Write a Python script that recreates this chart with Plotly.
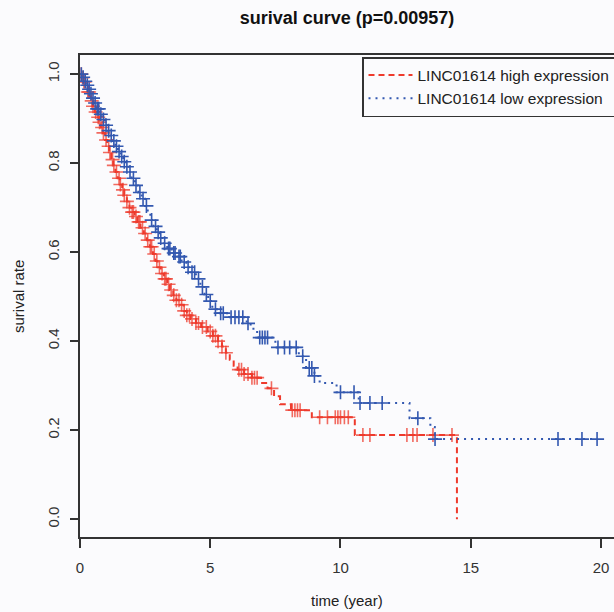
import plotly.graph_objects as go

# ---------------- data ----------------
title_text = "surival curve (p=0.00957)"
series_names = ["LINC01614 high expression", "LINC01614 low expression"]

# Kaplan-Meier steps: event time (years) and survival after the drop
high_times = [0, 0.08, 0.15, 0.22, 0.30, 0.36, 0.42, 0.50, 0.57, 0.64, 0.72, 0.80, 0.88, 0.96,
              1.04, 1.12, 1.20, 1.28, 1.36, 1.45, 1.53, 1.62, 1.70, 1.80, 1.90, 2.00, 2.10,
              2.20, 2.32, 2.45, 2.57, 2.68, 2.80, 2.90, 2.98, 3.10, 3.22, 3.35, 3.45, 3.58,
              3.70, 3.84, 3.98, 4.10, 4.25, 4.45, 4.65, 4.90, 5.10, 5.30, 5.45, 5.60, 5.75,
              5.90, 6.05, 6.30, 6.60, 6.95, 7.20, 7.45, 7.68, 8.10, 8.90, 10.55, 14.47]
high_surv = [1.0, 0.992, 0.983, 0.972, 0.960, 0.950, 0.940, 0.928, 0.915, 0.903, 0.892, 0.880,
             0.868, 0.852, 0.838, 0.824, 0.808, 0.795, 0.780, 0.766, 0.752, 0.740, 0.728, 0.714,
             0.700, 0.690, 0.680, 0.668, 0.655, 0.642, 0.627, 0.612, 0.596, 0.580, 0.566, 0.552,
             0.540, 0.528, 0.515, 0.503, 0.492, 0.482, 0.468, 0.458, 0.450, 0.441, 0.432, 0.422,
             0.412, 0.400, 0.388, 0.374, 0.358, 0.345, 0.336, 0.326, 0.318, 0.306, 0.294, 0.276,
             0.258, 0.245, 0.229, 0.189, 0.0]

low_times = [0, 0.06, 0.14, 0.22, 0.30, 0.38, 0.46, 0.55, 0.64, 0.74, 0.84, 0.96, 1.06, 1.16,
             1.26, 1.36, 1.46, 1.56, 1.66, 1.76, 1.86, 1.98, 2.11, 2.24, 2.37, 2.50, 2.60, 2.70,
             2.82, 2.95, 3.07, 3.20, 3.35, 3.52, 3.70, 3.90, 4.08, 4.25, 4.45, 4.62, 4.78, 4.92,
             5.08, 5.30, 5.70, 6.40, 6.55, 6.80, 7.50, 8.40, 8.68, 9.00, 9.20, 9.85, 10.70,
             12.65, 13.45, 13.62, 19.85]
low_surv = [1.0, 0.993, 0.984, 0.975, 0.966, 0.956, 0.946, 0.935, 0.922, 0.910, 0.898, 0.885,
            0.873, 0.862, 0.850, 0.838, 0.826, 0.815, 0.803, 0.792, 0.780, 0.766, 0.750, 0.734,
            0.720, 0.704, 0.688, 0.672, 0.658, 0.645, 0.632, 0.620, 0.608, 0.598, 0.590, 0.578,
            0.566, 0.555, 0.540, 0.522, 0.505, 0.490, 0.472, 0.463, 0.454, 0.440, 0.428, 0.408,
            0.386, 0.366, 0.340, 0.322, 0.306, 0.285, 0.261, 0.227, 0.207, 0.180, 0.180]

# censoring times (years)
high_censor = [0.05, 0.1, 0.15, 0.2, 0.3, 0.35, 0.45, 0.5, 0.6, 0.7, 0.75, 0.85, 0.9, 1.0, 1.1,
               1.15, 1.25, 1.3, 1.4, 1.5, 1.55, 1.65, 1.7, 1.8, 1.9, 2.0, 2.05, 2.15, 2.25, 2.3,
               2.4, 2.5, 2.6, 2.7, 2.75, 2.85, 2.95, 3.05, 3.15, 3.25, 3.3, 3.4, 3.5, 3.6, 3.7,
               3.8, 3.9, 4.0, 4.1, 4.2, 4.3, 4.45, 4.55, 4.7, 4.85, 5.0, 5.1, 5.2, 5.3, 5.45,
               5.6, 6.1, 6.2, 6.3, 6.45, 6.6, 6.7, 6.8, 7.35, 8.15, 8.25, 8.35, 8.45, 9.2, 9.5,
               9.8, 9.9, 10.0, 10.15, 10.3, 10.86, 11.13, 12.55, 12.78, 12.94, 13.55, 14.28]
low_censor = [0.05, 0.12, 0.2, 0.28, 0.35, 0.42, 0.5, 0.58, 0.66, 0.72, 0.8, 0.9, 1.0, 1.1, 1.2,
              1.3, 1.4, 1.5, 1.6, 1.7, 1.8, 1.92, 2.05, 2.15, 2.3, 2.42, 2.55, 2.75, 2.9, 3.0,
              3.1, 3.25, 3.4, 3.45, 3.6, 3.65, 3.8, 3.85, 4.0, 4.15, 4.3, 4.4, 4.55, 4.7, 4.85,
              5.0, 5.2, 5.4, 5.5, 5.8, 5.95, 6.1, 6.25, 6.45, 6.9, 7.0, 7.1, 7.2, 7.6, 7.85,
              8.05, 8.3, 8.55, 8.8, 8.9, 9.0, 10.0, 10.52, 10.75, 11.13, 11.6, 12.97, 13.63,
              18.35, 19.27, 19.85]

x_ticks = [0, 5, 10, 15, 20]
y_ticks = [0.0, 0.2, 0.4, 0.6, 0.8, 1.0]
y_tick_labels = ["0.0", "0.2", "0.4", "0.6", "0.8", "1.0"]
x_label = "time (year)"
y_label = "surival rate"

# ---------------- styling ----------------
RED = "#ee3a2c"
BLUE = "#3358b0"
BG = "#fbfbfd"
AX = "#333333"
FONT = "Liberation Sans, Arial, sans-serif"

W, H = 614, 612
L, R, T, B = 80, 0, 55, 75
PW, PH = W - L - R, H - T - B


def km_value(times, surv, t):
    val = surv[0]
    for ti, si in zip(times, surv):
        if ti <= t:
            val = si
        else:
            break
    return val


fig = go.Figure()

fig.add_trace(go.Scatter(
    x=high_times, y=high_surv, mode="lines", line_shape="hv",
    line=dict(color=RED, width=2, dash="6px,4px"),
    name=series_names[0], showlegend=True))
fig.add_trace(go.Scatter(
    x=low_times, y=low_surv, mode="lines", line_shape="hv",
    line=dict(color=BLUE, width=2, dash="2px,5px"),
    name=series_names[1], showlegend=True))

fig.add_trace(go.Scatter(
    x=high_censor, y=[km_value(high_times, high_surv, t) for t in high_censor],
    mode="markers", showlegend=False, hoverinfo="skip",
    marker=dict(symbol="cross-thin", size=10, opacity=0.75,
                line=dict(color=RED, width=1.6))))
fig.add_trace(go.Scatter(
    x=low_censor, y=[km_value(low_times, low_surv, t) for t in low_censor],
    mode="markers", showlegend=False, hoverinfo="skip",
    marker=dict(symbol="cross-thin", size=10,
                line=dict(color=BLUE, width=1.6))))

fig.update_layout(
    width=W, height=H,
    margin=dict(l=L, r=R, t=T, b=B, autoexpand=False),
    paper_bgcolor=BG, plot_bgcolor=BG,
    font=dict(family=FONT, size=15, color="#222222"),
    title=dict(text="<b>" + title_text + "</b>", x=0.5, xref="paper",
               y=1 - 18 / H, yref="container", yanchor="middle", xanchor="center",
               font=dict(size=18, color="#111111")),
    xaxis=dict(range=[0, 20.5], tickvals=x_ticks, ticktext=[str(v) for v in x_ticks],
               showgrid=False, zeroline=False, showline=True, linecolor=AX, linewidth=1.5,
               mirror=True, ticks="outside", ticklen=9, tickwidth=1.5, tickcolor=AX,
               ticklabelstandoff=7, tickfont=dict(size=15, color="#333333")),
    yaxis=dict(range=[-0.04, 1.043], tickvals=y_ticks, ticktext=y_tick_labels,
               showgrid=False, zeroline=False, showline=True, linecolor=AX, linewidth=1.5,
               mirror=False, ticks="outside", ticklen=8, tickwidth=1.5, tickcolor=AX,
               tickangle=-90, ticklabelstandoff=5, tickfont=dict(size=15, color="#333333")),
    legend=dict(x=(362 - L) / PW, y=1 - 2 / PH, xanchor="left", yanchor="top",
                bgcolor=BG, bordercolor=AX, borderwidth=1.5,
                font=dict(size=15.5, color="#222222"), tracegroupgap=0,
                itemwidth=44),
)
fig.add_annotation(text=x_label, x=(347 - L) / PW, y=-(600 - (H - B)) / PH,
                   xref="paper", yref="paper", showarrow=False, yanchor="middle",
                   font=dict(size=15, color="#222222"))
fig.add_annotation(text=y_label, textangle=-90, x=-(L - 18) / PW, y=((H - B) - 297) / PH,
                   xref="paper", yref="paper", showarrow=False, xanchor="center",
                   font=dict(size=15, color="#222222"))

fig.write_html("out.html", config={"displayModeBar": False},
               post_script="document.body.style.margin='0';document.body.style.padding='0';")
